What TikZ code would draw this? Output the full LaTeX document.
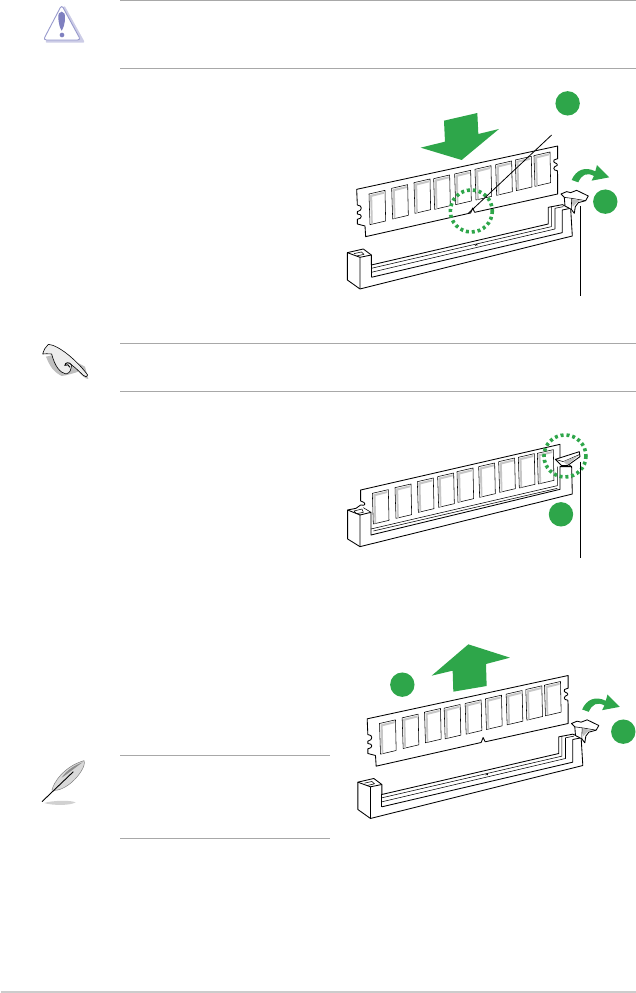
\documentclass[tikz,border=0pt]{standalone}
\definecolor{gr}{HTML}{2EA64A}
\definecolor{rule}{HTML}{A8A8A8}
\definecolor{warn}{HTML}{7F80C0}
\tikzset{
  px/.style={x=1pt,y=-1pt},
  zm/.style={x=0.3333pt,y=-0.3333pt},
  ln/.style={line width=0.85pt,black,line join=round},
  thin ln/.style={line width=0.55pt,black,line join=round},
  hr/.style={line width=0.8pt,rule},
  leader/.style={line width=0.8pt,black},
  dotring/.style={gr,line width=3.6pt,dash pattern=on 3pt off 2.9pt},
  badge/.style={circle,fill=gr,inner sep=0pt,minimum size=24.4pt}
}
\newcommand{\chipcell}[2]{%
  \filldraw[thin ln,fill=white] (#1,#2) -- ++(48,-11) -- ++(2,92) -- ++(-47,11) -- cycle;
  \fill[black!22] (#1+3,#2+3) -- ++(42,-10) -- ++(0.5,6) -- ++(-36,9) -- ++(2,82) -- ++(-5,1) -- cycle;
}
\newcommand{\openchips}{%
  \foreach \a/\b in {117/342,185/325,252/308,311/296,374/282,435/268,497/254,556/240,612/227} {\chipcell{\a}{\b}}%
}
\newcommand{\closedchips}{%
  \foreach \a/\b in {127/205,195/188,262/170,323/155,381/140,446/125,506/110,565/97,622/85} {\chipcell{\a}{\b}}%
}
\newcommand{\moduleopen}{%
  \draw[ln,fill=white] (80,328) -- (683,198) -- (683,236) -- (672,240) .. controls (667,250) and (682,248) .. (682,254)
   -- (682,256) .. controls (668,260) and (668,272) .. (682,272) -- (683,285) -- (683,342) -- (434,397)
   -- (428,384) -- (422,399) -- (107,470) -- (105,438) -- (82,432) -- (82,418) .. controls (98,416) and (98,402) .. (82,402)
   -- (82,395) .. controls (98,392) and (98,376) .. (82,375) -- cycle;
  \openchips
}
\newcommand{\socketopen}{%
  \draw[ln,fill=white] (52,518) -- (100,507) -- (124,525) -- (124,555) -- (655,432) -- (655,382) -- (697,374) -- (722,385) -- (727,468) -- (90,627) -- (52,600) -- cycle;
  \draw[ln] (52,518) -- (90,532) -- (90,627);
  \draw[ln] (90,532) -- (124,525);
  \draw[thin ln] (72,521) -- (94,516) -- (102,523) -- (80,528);
  \draw[thin ln] (124,565) -- (664,440) -- (664,379);
  \draw[thin ln] (124,577) -- (675,447) -- (675,385) -- (700,380);
  \draw[ln] (124,592) -- (697,458) -- (697,390) -- (722,385);
  \draw[ln] (124,555) -- (124,592);
  \draw[thin ln] (435,497) -- (441,492) -- (441,497);
}
\newcommand{\latchopen}{%
  \draw[ln,fill=white] (693,342) -- (710,335) -- (722,338) -- (740,331) -- (775,348) -- (767,362) -- (745,368) -- (736,380) -- (733,400) -- (724,388) -- (705,378) -- (703,352) -- cycle;
  \draw[thin ln] (703,352) -- (725,355) -- (767,362);
  \fill[black!25] (725,357) -- (755,362) -- (742,366) -- (728,380) -- cycle;
  \draw[thin ln] (725,355) -- (724,388);
}
\newcommand{\curvedarrow}{%
  \fill[gr] (725,300) .. controls (738,270) and (765,258) .. (796,274) -- (801,255) -- (838,292) -- (785,302) -- (792,288)
    .. controls (770,276) and (755,284) .. (745,307) -- cycle;
}
\begin{document}
\begin{tikzpicture}[px]
\useasboundingbox (0,0) rectangle (636,993);
% rules
\coordinate (r1a) at (120,0.4); \coordinate (r1b) at (636,0.4);
\coordinate (r2a) at (120,68); \coordinate (r2b) at (636,68);
\coordinate (r3a) at (120,343); \coordinate (r3b) at (636,343);
\coordinate (r4a) at (120,391); \coordinate (r4b) at (636,391);
\coordinate (r5a) at (120,755); \coordinate (r5b) at (330,755);
\coordinate (r6a) at (120,838); \coordinate (r6b) at (330,838);
\foreach \p in {1,...,6} {\draw[hr] (r\p a) -- (r\p b);}
\coordinate (r7a) at (1,992); \coordinate (r7b) at (636,992);
\draw[line width=1.8pt,black!20] (r7a) -- (r7b);
% warning icon
\begin{scope}[shift={(20,0)},zm]
  \draw[line width=2pt,warn!40,line join=round,fill=warn!40] (133,22) -- (190,125) -- (80,125) -- cycle;
  \draw[line width=0.9pt,warn!80,line join=round,rounded corners=3pt,fill=white] (125,15) -- (182,120) -- (70,120) -- cycle;
  \fill[warn] (125,35) .. controls (118,35) and (114,42) .. (115,55) .. controls (116,70) and (120,85) .. (125,92) .. controls (130,85) and (135,70) .. (135,55) .. controls (136,42) and (132,35) .. (125,35) -- cycle;
  \fill[warn] (126,105) circle[radius=7];
\end{scope}
% hand icon
\begin{scope}[shift={(20,330)},zm]
  \fill[black!25] (78,80) .. controls (90,110) and (100,125) .. (125,138) .. controls (145,135) and (160,130) .. (175,125) .. controls (185,135) and (195,147) .. (205,147) -- (195,110) -- (120,70) -- cycle;
  \draw[line width=0.6pt,fill=black!7,line join=round] (68,72) .. controls (72,60) and (76,50) .. (85,43)
    .. controls (115,45) and (170,90) .. (203,135) .. controls (203,142) and (196,142) .. (190,136)
    .. controls (175,122) and (165,112) .. (155,105) .. controls (152,120) and (152,128) .. (138,132)
    .. controls (120,128) and (105,110) .. (95,72) .. controls (85,70) and (75,72) .. (68,72) -- cycle;
  \draw[line width=0.9pt] (155,105) .. controls (148,95) and (135,97) .. (135,106) .. controls (140,102) and (148,104) .. (150,112);
\end{scope}
% feather icon
\begin{scope}[shift={(20,745)},zm]
  \fill[black!18] (72,174) .. controls (100,166) and (150,165) .. (167,172) .. controls (150,182) and (100,182) .. (72,174) -- cycle;
  \draw[line width=0.5pt,black!50,fill=black!15] (96,135) .. controls (100,115) and (130,65) .. (192,47) .. controls (198,60) and (180,90) .. (155,112) .. controls (140,125) and (115,140) .. (96,135) -- cycle;
  \fill[black!45] (125,98) .. controls (140,75) and (165,60) .. (188,52) .. controls (165,68) and (145,85) .. (125,98) -- cycle;
  \draw[line width=0.9pt] (66,170) -- (160,80);
\end{scope}
% first figure
\begin{scope}[shift={(330,80)},zm]
  \socketopen
  \moduleopen
  \latchopen
  \fill[gr] (342,122) -- (442,99) -- (445,162) -- (507,147) -- (395,240) -- (272,203) -- (345,185) -- cycle;
  \curvedarrow
  \draw[dotring] (424,393) circle[radius=63];
  \node[badge] (b1) at (713,70) {};
  \node[badge] (b2) at (826,365) {};
  \coordinate (l1a) at (665,165); \coordinate (l1b) at (415,400);
  \coordinate (l2a) at (752,378); \coordinate (l2b) at (752,648);
  \draw[leader] (l1a) -- (l1b);
  \draw[leader] (l2a) -- (l2b);
\end{scope}
% second figure
\begin{scope}[shift={(330,425)},zm]
  \draw[ln,fill=white] (53,255) -- (78,250) -- (92,240) .. controls (108,245) and (110,232) .. (92,228) -- (92,195) -- (690,58) -- (690,100) -- (725,125) -- (727,207) -- (90,365) -- (53,342) -- cycle;
  \draw[ln] (53,255) -- (90,270) -- (90,365);
  \draw[ln] (90,270) -- (123,262) -- (123,330) -- (690,193) -- (690,125) -- (725,125);
  \draw[thin ln] (123,262) -- (100,248);
  \draw[thin ln] (72,258) -- (96,252) -- (100,262) -- (80,266) -- cycle;
  \draw[thin ln] (123,312) -- (682,182) -- (682,125);
  \draw[thin ln] (130,318) -- (682,190);
  \closedchips
  \draw[ln,fill=white] (676,103) -- (748,80) -- (750,95) -- (712,122) -- (695,122) -- cycle;
  \draw[thin ln] (676,103) -- (700,110) -- (750,88);
  \fill[black!25] (700,110) -- (745,92) -- (712,120) -- cycle;
  \draw[dotring] (705,93) circle[radius=63];
  \node[badge] (b3) at (693,268) {};
  \coordinate (l3a) at (752,110); \coordinate (l3b) at (752,398);
  \draw[leader] (l3a) -- (l3b);
\end{scope}
% third figure
\begin{scope}[shift={(340.5,609.5)},zm]
  \socketopen
  \moduleopen
  \latchopen
  \curvedarrow
\end{scope}
\begin{scope}[shift={(340,635)},zm]
  \fill[gr] (385,28) -- (510,68) -- (438,87) -- (440,153) -- (340,170) -- (338,107) -- (275,122) -- cycle;
  \node[badge] (b4) at (187,149) {};
  \node[badge] (b5) at (850,290) {};
\end{scope}
\end{tikzpicture}
\end{document}
